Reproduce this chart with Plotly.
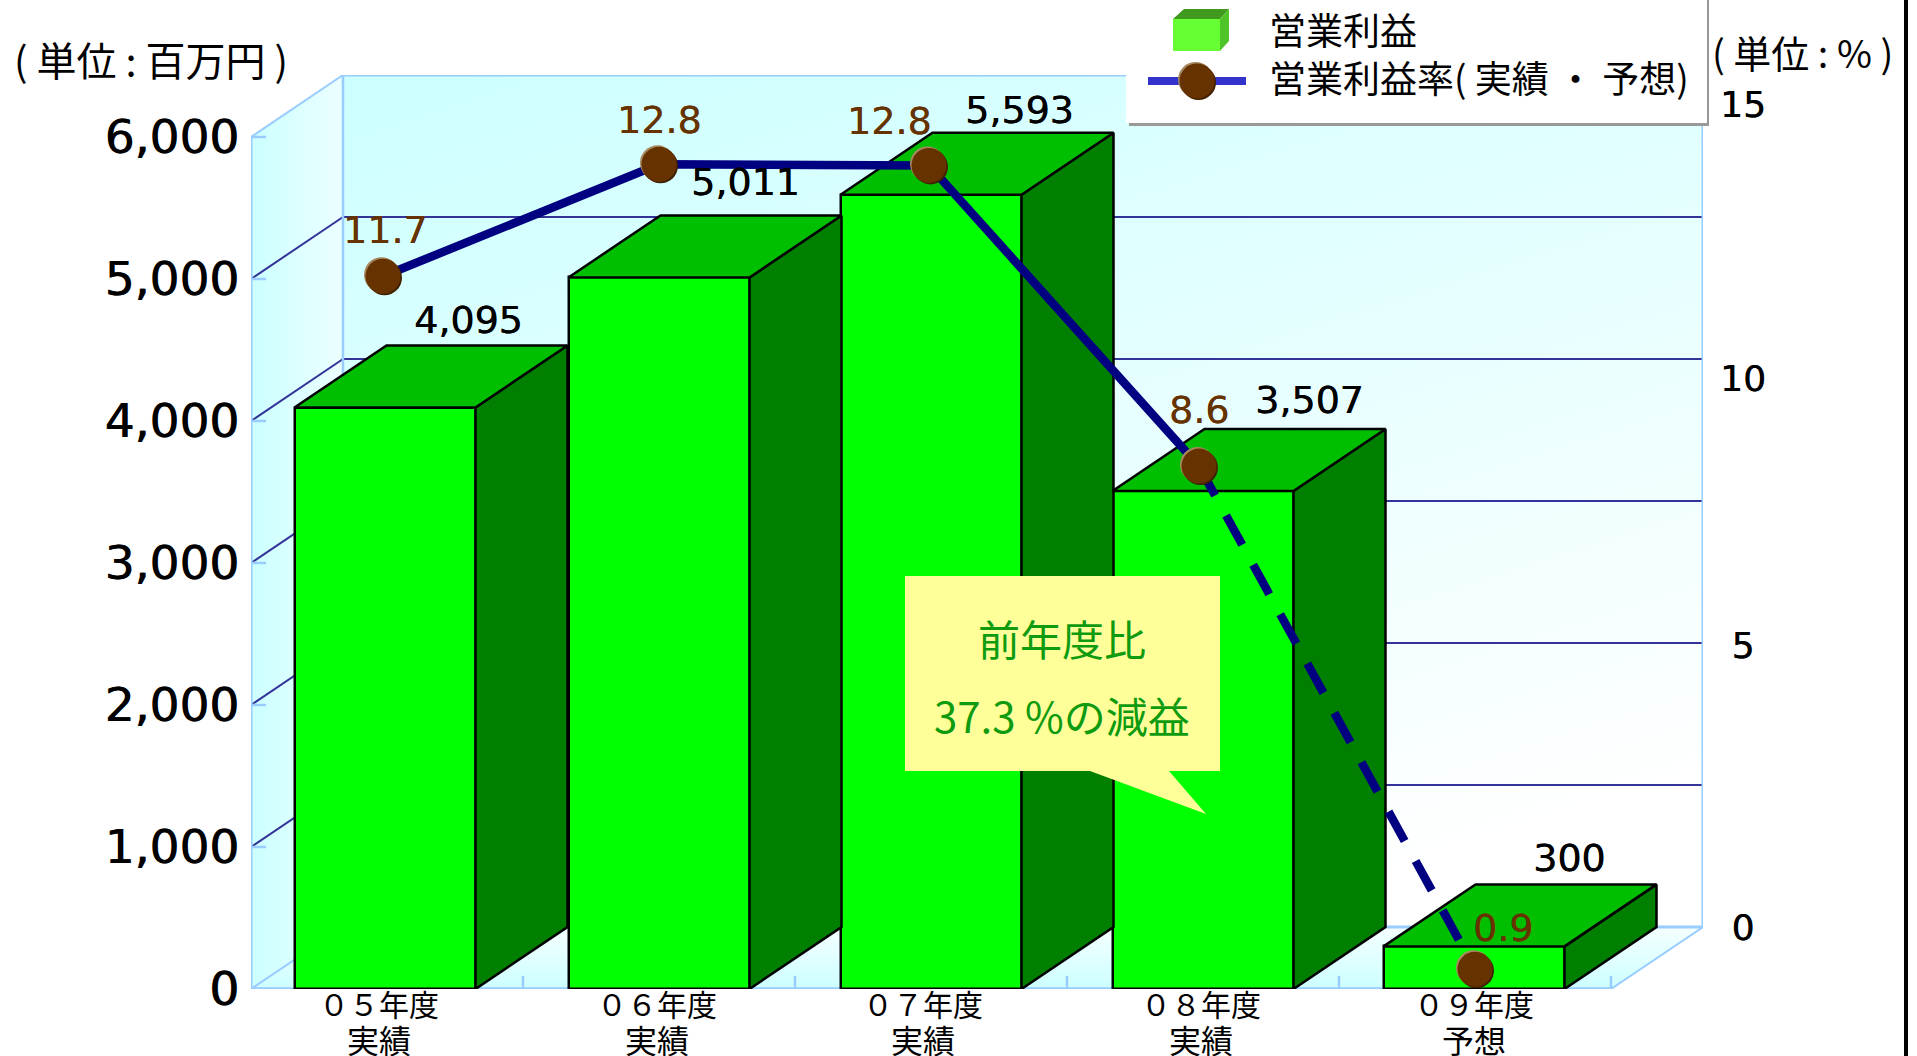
import base64
import plotly.graph_objects as go

# ---- data ----
categories = ["０５年度", "０６年度", "０７年度", "０８年度", "０９年度"]
category_notes = ["実績", "実績", "実績", "実績", "予想"]
profit = [4095, 5011, 5593, 3507, 300]
rate_labels = ["11.7", "12.8", "12.8", "8.6", "0.9"]
# heights of the rate points as drawn, read against the right-hand axis
rate_drawn = [11.86, 13.9, 13.88, 8.4, -0.77]
y_ticks = [0, 1000, 2000, 3000, 4000, 5000, 6000]
y_ticktext = ["0", "1,000", "2,000", "3,000", "4,000", "5,000", "6,000"]
y2_ticks = [0, 5.14, 10, 15]
y2_ticktext = ["\u00a00", "\u00a05", "10", "15"]

# ---- layout geometry ----
W, H = 1917, 1056
L, R, T, B = 251, 1703, 75, 989      # pixel box of the 3-D frame
BAND = 272                           # pixels per category
DX = 92 / BAND                       # depth, x units
Y_PX = 6000 / 852                    # value units per pixel
DY = 62 * Y_PX                       # depth, y units
BW = 181 / BAND
XR = [-0.5, 4.5 + DX]
YR = [0, 6000 + DY]
Y2R = [-62 / 54.87, 852 / 54.87]
n = len(profit)
xs = list(range(n))
bar_nudge = [-2 / BAND, 0, 0, 0, -1 / BAND]
rate_nudge = [-4 / BAND, 0, -2 / BAND, -4 / BAND, 0]     # the drawn points sit slightly off centre
label_nudge = [-8 / BAND, -2 / BAND, -8 / BAND, -2 / BAND, -1 / BAND]
bar_x = [i + d for i, d in zip(xs, bar_nudge)]
rate_x = [i + d for i, d in zip(xs, rate_nudge)]
label_x = [i + d for i, d in zip(xs, label_nudge)]

GREEN, TOPC, SIDE = "#00ff00", "#00bf00", "#007f00"
NAVY, BROWN, GRID, EDGE = "#000080", "#663300", "#333399", "#99ccff"
SANS = "DejaVu Sans"
CJK = "Noto Sans CJK JP"


def px(v):
    return v / W


def py(v):
    return (H - v) / H


def path(points):
    return "M" + " L".join(f"{px(a):.5f},{py(b):.5f}" for a, b in points) + " Z"


# wall gradients
svg = f"""<svg xmlns='http://www.w3.org/2000/svg' width='{R-L}' height='{B-T}' viewBox='{L} {T} {R-L} {B-T}' preserveAspectRatio='none'>
<defs>
<linearGradient id='b' gradientUnits='userSpaceOnUse' x1='343' y1='75' x2='672' y2='1108'><stop offset='0' stop-color='#ccffff'/><stop offset='1' stop-color='#ffffff'/></linearGradient>
<linearGradient id='l' gradientUnits='userSpaceOnUse' x1='251' y1='0' x2='343' y2='0'><stop offset='0' stop-color='#ccffff'/><stop offset='1' stop-color='#ecffff'/></linearGradient>
<linearGradient id='f' gradientUnits='userSpaceOnUse' x1='0' y1='989' x2='0' y2='927'><stop offset='0' stop-color='#ccffff'/><stop offset='1' stop-color='#f6ffff'/></linearGradient>
</defs>
<polygon points='343,75 1703,75 1703,927 343,927' fill='url(#b)'/>
<polygon points='251,137 343,75 343,927 251,989' fill='url(#l)'/>
<polygon points='251,989 343,927 1703,927 1611,989' fill='url(#f)'/>
</svg>"""
svg_uri = "data:image/svg+xml;base64," + base64.b64encode(svg.encode()).decode()

x_left, x_right = XR[0], XR[0] + n
shapes = []


def seg(x0, y0, x1, y1, color, width, layer="below"):
    shapes.append(dict(type="line", xref="x", yref="y", x0=x0, y0=y0, x1=x1, y1=y1,
                       line=dict(color=color, width=width), layer=layer))


# grid lines on the walls
for t in y_ticks[1:-1]:
    seg(x_left, t, x_left + DX, t + DY, GRID, 2)
    seg(x_left + DX, t + DY, XR[1], t + DY, GRID, 2)
# frame
seg(x_left, 0, x_left, 6000, EDGE, 3)
seg(x_left, 6000, x_left + DX, 6000 + DY, EDGE, 2)
seg(x_left + DX, DY, x_left + DX, 6000 + DY, EDGE, 2.5)
seg(x_left + DX, 6000 + DY, XR[1], 6000 + DY, EDGE, 3)
seg(XR[1], DY, XR[1], 6000 + DY, EDGE, 3)
seg(x_left + DX, DY, XR[1], DY, EDGE, 3)
seg(x_left, 0, x_left + DX, DY, EDGE, 2)
seg(x_right, 0, XR[1], DY, EDGE, 2)
seg(x_left, 0, x_right, 0, EDGE, 3.5)
for t in y_ticks:
    seg(x_left, t, x_left + 15 / BAND, t, EDGE, 2.5)
for k in range(1, n + 1):
    seg(x_left + k, 0, x_left + k, 13 * Y_PX, EDGE, 2.5)

fig = go.Figure()

fig.add_trace(go.Bar(x=bar_x, y=profit, width=BW, name="営業利益",
                     marker=dict(color=GREEN, line=dict(color="black", width=2.5)),
                     hoverinfo="skip"))

for i, v in zip(bar_x, profit):
    a, b = i - BW / 2, i + BW / 2
    fig.add_trace(go.Scatter(x=[b, b + DX, b + DX, b, b], y=[0, DY, v + DY, v, 0], mode="lines",
                             fill="toself", fillcolor=SIDE, line=dict(color="black", width=2.5),
                             hoverinfo="skip"))
    fig.add_trace(go.Scatter(x=[a, b, b + DX, a + DX, a], y=[v, v, v + DY, v + DY, v], mode="lines",
                             fill="toself", fillcolor=TOPC, line=dict(color="black", width=2.5),
                             hoverinfo="skip"))

fig.add_trace(go.Scatter(x=rate_x[:4], y=rate_drawn[:4], yaxis="y2", mode="lines", name="営業利益率（実績）",
                         line=dict(color=NAVY, width=8.5), hoverinfo="skip"))
fig.add_trace(go.Scatter(x=rate_x[3:], y=rate_drawn[3:], yaxis="y2", mode="lines", name="営業利益率（予想）",
                         line=dict(color=NAVY, width=8.5, dash="33.5px,22.8px"), hoverinfo="skip"))
fig.add_trace(go.Scatter(x=rate_x, y=rate_drawn, yaxis="y2", mode="markers", name="営業利益率",
                         marker=dict(color=BROWN, size=34), hoverinfo="skip"))


def ball(xa, ya, xref, yref):
    for col, ox, oy in (("#a88a62", -1.5, -1.5), ("#402000", 1.5, 1.5), (BROWN, 0, 0)):
        shapes.append(dict(type="circle", xref=xref, yref=yref, xsizemode="pixel", ysizemode="pixel",
                           xanchor=xa, yanchor=ya, x0=-17.5 + ox, x1=17.5 + ox, y0=-17.5 - oy, y1=17.5 - oy,
                           fillcolor=col, line=dict(width=0), layer="above"))


# profit-rate balls
for i, r in zip(rate_x, rate_drawn):
    ball(i, r, "x", "y2")

# legend box
shapes.append(dict(type="path", xref="paper", yref="paper", fillcolor="#999999", line=dict(width=0), layer="above",
                   path=path([(1129, 0), (1709, 0), (1709, 126), (1129, 126)])))
shapes.append(dict(type="path", xref="paper", yref="paper", fillcolor="#ffffff", line=dict(width=0), layer="above",
                   path=path([(1126, 0), (1707, 0), (1707, 123), (1126, 123)])))
for col, pts in (
    ("#66ff33", [(1173, 19), (1220, 19), (1220, 51), (1173, 51)]),
    ("#3f9a1e", [(1173, 19), (1184, 9), (1229, 9), (1220, 19)]),
    ("#4fc428", [(1220, 19), (1229, 9), (1229, 41), (1220, 51)]),
    ("#3333cc", [(1148, 77), (1246, 77), (1246, 85), (1148, 85)]),
):
    shapes.append(dict(type="path", xref="paper", yref="paper", fillcolor=col, line=dict(width=0),
                       layer="above", path=path(pts)))
ball(px(1197), py(81), "paper", "paper")

# page-edge rule
shapes.append(dict(type="line", xref="paper", yref="paper", x0=px(1906), x1=px(1906), y0=py(0), y1=py(H),
                   line=dict(color="black", width=4), layer="above"))

# callout
shapes.append(dict(type="path", xref="paper", yref="paper", fillcolor="#ffff99", line=dict(width=0), layer="above",
                   path=path([(905, 576), (1220, 576), (1220, 771), (1169, 771), (1206, 814), (1090, 771), (905, 771)])))

ann = []


def note(xp, yp, text, size, color="black", family=CJK, anchor="center"):
    ann.append(dict(xref="paper", yref="paper", x=px(xp), y=py(yp), text=text, showarrow=False,
                    xanchor=anchor, yanchor="middle", font=dict(size=size, color=color, family=family)))


note(12, 59, "( 単位 : 百万円 )", 40, anchor="left")
note(1710, 51, "( 単位 : % )", 38, anchor="left")
note(1267, 29, "営業利益", 37, anchor="left")
note(1267, 77, "営業利益率( 実績 ・ 予想)", 37, anchor="left")
note(1062, 637, "前年度比", 42, color="#0f9b0f")
note(1062, 714, "37.3 %の減益", 42, color="#0f9b0f")

# second row of the category labels
for i, t in zip(label_x, category_notes):
    ann.append(dict(x=i, y=0, xref="x", yref="y", text=t, showarrow=False, yshift=-50, yanchor="middle",
                    font=dict(size=32, color="black", family=CJK)))

THICK_K = "0.5px 0 0 black"
THICK_B = "0.3px 0 0 " + BROWN
# value labels, offsets from the top right of each bar's front face
profit_off = [(-7, 88), (-4, 95), (-2, 85), (16, 91), (5, 88)]
for i, v, (ox, oy) in zip(bar_x, profit, profit_off):
    ann.append(dict(x=i + BW / 2, y=v, xref="x", yref="y", text=f"{v:,}", showarrow=False,
                    xshift=ox, yshift=oy, font=dict(size=38, color="black", family=SANS, shadow=THICK_K)))
rate_off = [(2, 46), (0, 44), (-40, 44), (0, 56), (28, 41)]
for i, r, lab, (ox, oy) in zip(rate_x, rate_drawn, rate_labels, rate_off):
    ann.append(dict(x=i, y=r, xref="x", yref="y2", text=lab, showarrow=False,
                    xshift=ox, yshift=oy, font=dict(size=38, color=BROWN, family=SANS, shadow=THICK_B)))

fig.update_layout(
    width=W, height=H, autosize=False, showlegend=False,
    paper_bgcolor="white", plot_bgcolor="rgba(0,0,0,0)",
    margin=dict(l=0, r=0, t=0, b=0), bargap=0,
    shapes=shapes, annotations=ann,
    images=[dict(source=svg_uri, xref="paper", yref="paper", x=L / W, y=(H - T) / H,
                 sizex=(R - L) / W, sizey=(B - T) / H,
                 xanchor="left", yanchor="top", sizing="stretch", layer="below")],
    xaxis=dict(domain=[L / W, R / W], range=XR, tickmode="array", tickvals=label_x, ticktext=categories,
               automargin=False, showgrid=False, zeroline=False, showline=False, ticks="", ticklabelstandoff=-4,
               tickangle=0, tickfont=dict(size=30, family=CJK, color="black")),
    yaxis=dict(domain=[(H - B) / H, (H - T) / H], range=YR, tickmode="array", tickvals=y_ticks, ticktext=y_ticktext,
               automargin=False, showgrid=False, zeroline=False, showline=False, ticks="", ticklabelstandoff=11,
               tickfont=dict(size=47, family=SANS, color="black", shadow="0.8px 0 0 black")),
    yaxis2=dict(domain=[(H - B) / H, (H - T) / H], range=Y2R, overlaying="y", side="right", anchor="x",
                automargin=False, tickmode="array", tickvals=y2_ticks, ticktext=y2_ticktext,
                showgrid=False, zeroline=False, showline=False, ticks="", ticklabelstandoff=16,
                tickfont=dict(size=36, family=SANS, color="black", shadow=THICK_K)),
)

fig.write_html("out.html", config=dict(displayModeBar=False),
               post_script="document.body.style.margin='0';document.body.style.overflow='hidden';")
